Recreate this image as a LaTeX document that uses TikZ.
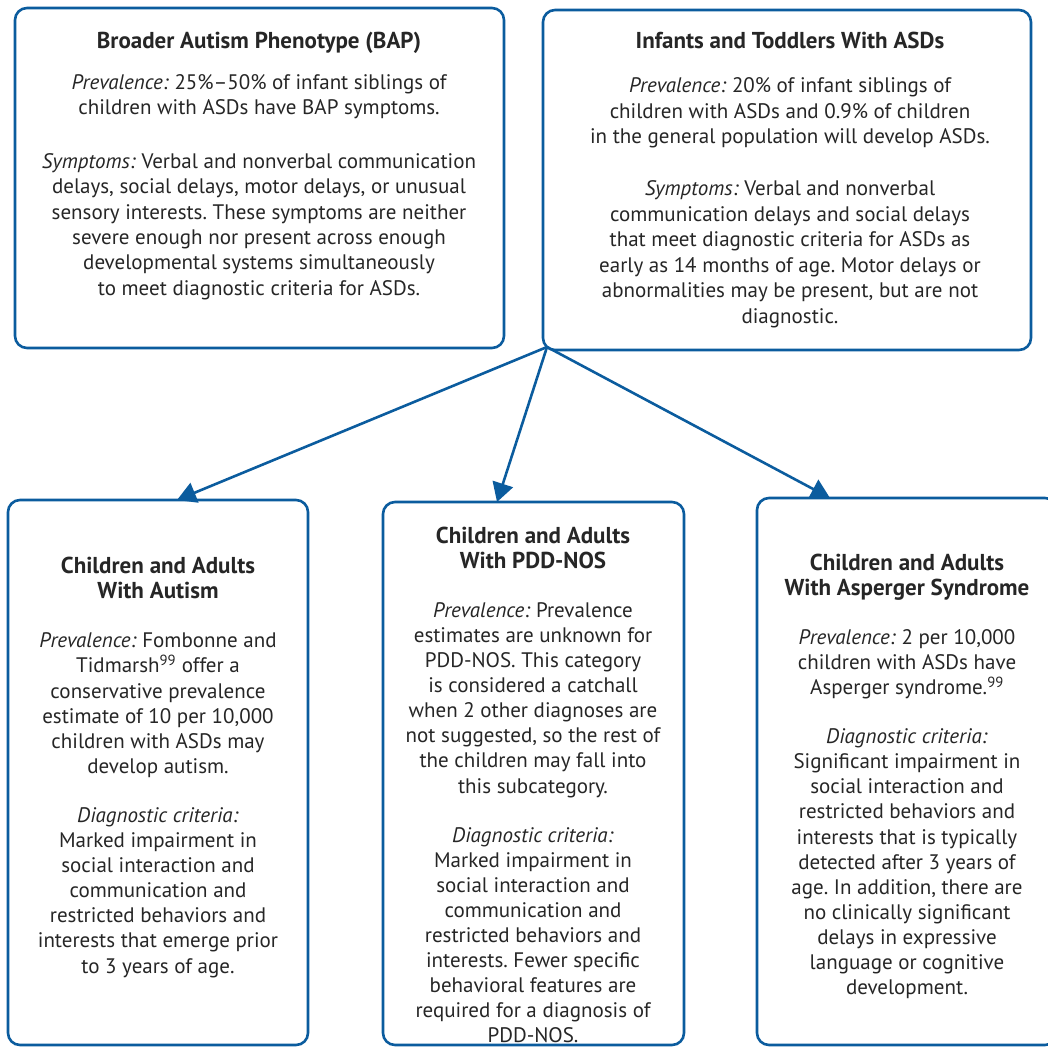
\documentclass[tikz,border=0pt]{standalone}
\usepackage{fontspec}
\setmainfont{PT Sans}
\usetikzlibrary{arrows.meta,positioning}
\definecolor{frame}{HTML}{0B5C9E}
\definecolor{ink}{HTML}{262626}
\tikzset{
  box/.style={draw=frame,line width=2.6pt,rounded corners=12pt,fill=white},
  txt/.style={align=center,inner sep=0pt,anchor=north,text=ink,
    font=\fontsize{21}{#1}\selectfont\frenchspacing},
  txt/.default=25.1,
  flow/.style={-{Triangle[length=19pt,width=21pt]},draw=frame,line width=2.6pt}}
\newcommand{\hd}[1]{{\fontsize{23}{25.1}\selectfont\bfseries #1}}
\newcommand{\lbl}[1]{\textit{#1}}

\begin{document}
\begin{tikzpicture}[x=1pt,y=-1pt]
\useasboundingbox (0,0) rectangle (1048,1047);
% the two top boxes
\node[box,minimum width=489pt,minimum height=340pt] (bap) at (259.5,178) {};
\node[box,minimum width=488pt,minimum height=340pt] (itd) at (787,180) {};
% the three bottom boxes
\node[box,minimum width=300pt,minimum height=545pt] (aut) at (158,772.5) {};
\node[box,minimum width=301pt,minimum height=543pt] (pdd) at (533.5,773.5) {};
\node[box,minimum width=300pt,minimum height=547pt] (asp) at (907,771.5) {};

\node[txt=25.4] (bapT) at (259,31.5) {\hd{Broader Autism Phenotype (BAP)}\\[16pt]
  \lbl{Prevalence:} 25\%–50\% of infant siblings of\\
  children with ASDs have BAP symptoms.\\[28pt]
  \lbl{Symptoms:} Verbal and nonverbal communication\\
  delays, social delays, motor delays, or unusual\\
  sensory interests. These symptoms are neither\\
  severe enough nor present across enough\\
  developmental systems simultaneously\\
  to meet diagnostic criteria for ASDs.};
\node[txt=25.6] (itdT) at (790,32) {\hd{Infants and Toddlers With ASDs}\\[18.5pt]
  \lbl{Prevalence:} 20\% of infant siblings of\\
  children with ASDs and 0.9\% of children\\
  in the general population will develop ASDs.\\[26pt]
  \lbl{Symptoms:} Verbal and nonverbal\\
  communication delays and social delays\\
  that meet diagnostic criteria for ASDs as\\
  early as 14 months of age. Motor delays or\\
  abnormalities may be present, but are not\\
  diagnostic.};
\node[txt] (autT) at (158,557) {\hd{Children and Adults}\\\hd{With Autism}\\[24pt]
  \lbl{Prevalence:} Fombonne and\\
  Tidmarsh\textsuperscript{99} offer a\\
  conservative prevalence\\
  estimate of 10 per 10,000\\
  children with ASDs may\\
  develop autism.\\[24pt]
  \lbl{Diagnostic criteria:}\\
  Marked impairment in\\
  social interaction and\\
  communication and\\
  restricted behaviors and\\
  interests that emerge prior\\
  to 3 years of age.};
\node[txt] (pddT) at (533,526.5) {\hd{Children and Adults}\\\hd{With PDD-NOS}\\[24pt]
  \lbl{Prevalence:} Prevalence\\
  estimates are unknown for\\
  PDD-NOS. This category\\
  is considered a catchall\\
  when 2 other diagnoses are\\
  not suggested, so the rest of\\
  the children may fall into\\
  this subcategory.\\[24pt]
  \lbl{Diagnostic criteria:}\\
  Marked impairment in\\
  social interaction and\\
  communication and\\
  restricted behaviors and\\
  interests. Fewer specific\\
  behavioral features are\\
  required for a diagnosis of\\
  PDD-NOS.};
\node[txt] (aspT) at (907,553.5) {\hd{Children and Adults}\\\hd{With Asperger Syndrome}\\[24pt]
  \lbl{Prevalence:} 2 per 10,000\\
  children with ASDs have\\
  Asperger syndrome.\textsuperscript{99}\\[24pt]
  \lbl{Diagnostic criteria:}\\
  Significant impairment in\\
  social interaction and\\
  restricted behaviors and\\
  interests that is typically\\
  detected after 3 years of\\
  age. In addition, there are\\
  no clinically significant\\
  delays in expressive\\
  language or cognitive\\
  development.};

% arrows out of the lower left corner of the toddler box
\coordinate (fork) at (547,347);
\coordinate (autIn) at (177,500);
\coordinate (pddIn) at (497,502);
\coordinate (aspIn) at (830,498);
\draw[flow] (fork) -- (autIn);
\draw[flow] (fork) -- (pddIn);
\draw[flow] (fork) -- (aspIn);
\end{tikzpicture}
\end{document}
